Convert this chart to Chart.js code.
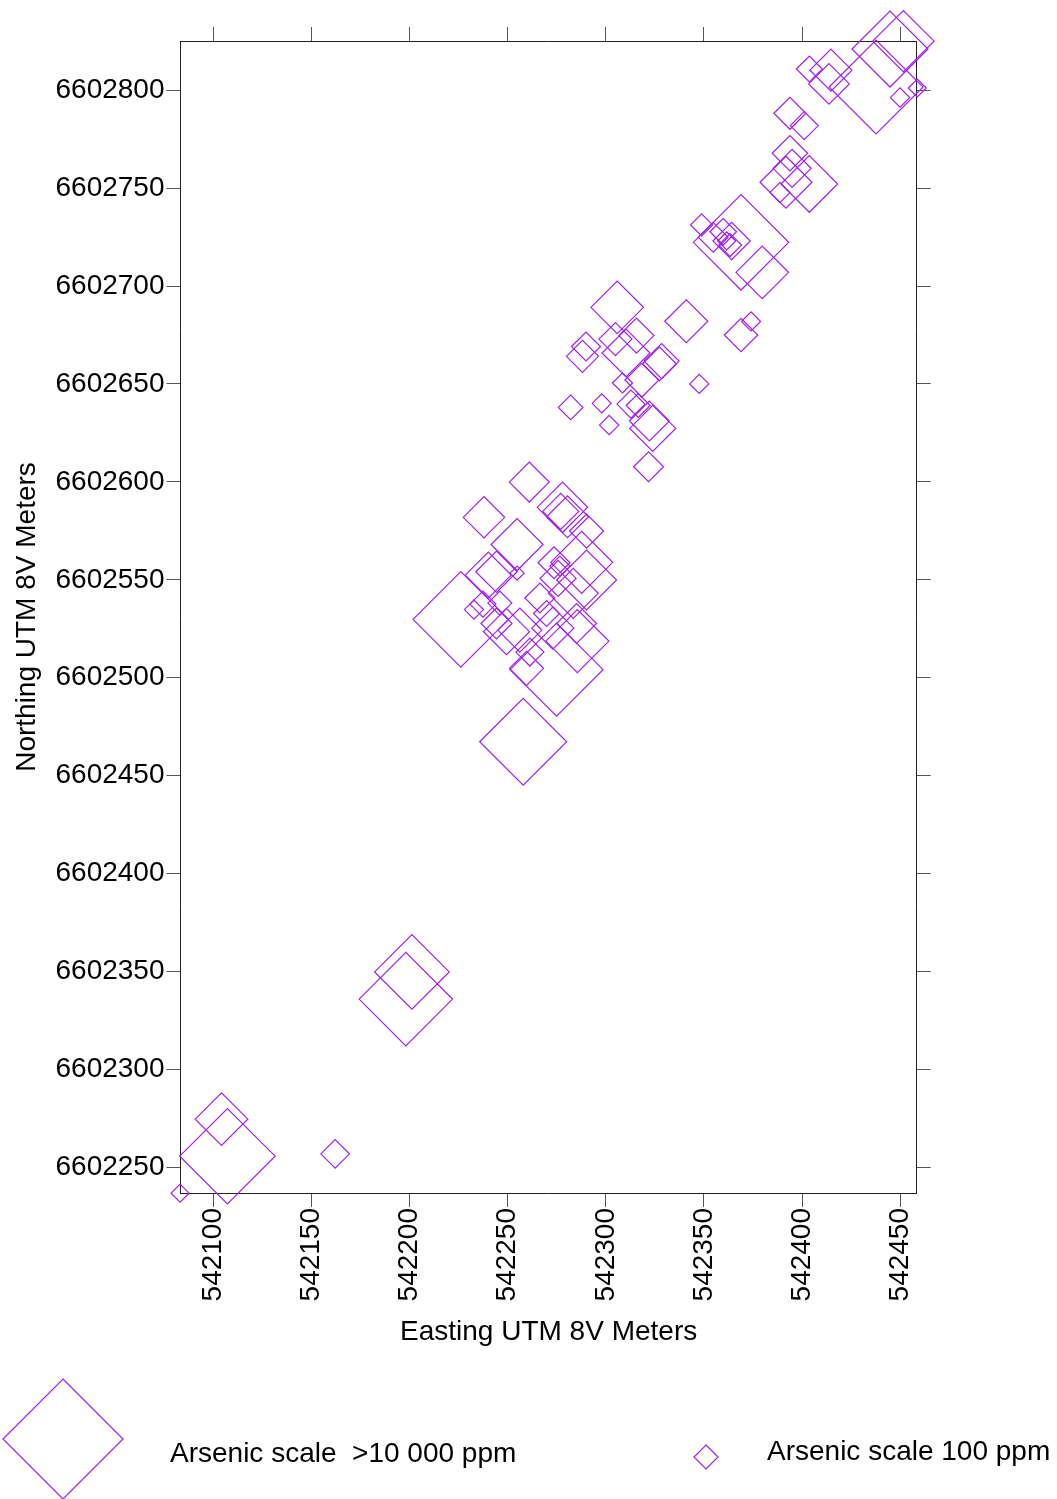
<!DOCTYPE html>
<html>
<head>
<meta charset="utf-8">
<title>Arsenic in samples, UTM 8V</title>
<script src="https://cdn.jsdelivr.net/npm/chart.js"></script>
<style>
  html, body { margin: 0; padding: 0; background: #ffffff; }
  #wrap { position: relative; width: 1057px; height: 1499px; }
  canvas { display: block; }
</style>
</head>
<body>
<div id="wrap"><canvas id="map" width="1057" height="1499"></canvas></div>
<script>
// Sample locations (UTM zone 8V, metres) and arsenic assays (ppm)
const eastings = [
  542444.8, 542451.6, 542437.7, 542449.9, 542458.7, 542403.7, 542414.7, 542413.7,
  542393.8, 542401.1, 542393.8, 542394.9, 542403.7, 542391.8, 542388.7,
  542368.9, 542379.7, 542348.8, 542359.8, 542364.1, 542361.6, 542363.3, 542354.7,
  542341.0, 542368.9, 542374.0,
  542305.8, 542289.9, 542288.1, 542304.9, 542315.6, 542310.3, 542328.4, 542327.3,
  542318.4, 542308.5, 542347.6, 542282.1, 542297.9, 542301.7, 542312.8, 542316.5,
  542322.2, 542323.9, 542321.8,
  542261.0, 542237.9, 542277.9, 542277.0, 542280.5, 542290.2, 542254.8, 542244.3,
  542240.1, 542254.8, 542226.1, 542232.8, 542273.6, 542275.7, 542287.7, 542290.2,
  542283.4, 542285.5, 542274.9, 542257.9, 542249.4, 542259.6, 542244.3, 542269.8,
  542273.0, 542285.1, 542256.2, 542246.0, 542266.4, 542261.3, 542276.6, 542237.4,
  542201.2, 542198.1, 542104.2, 542107.2, 542162.1, 542083.1
];
const northings = [
  6602821.0, 6602825.0, 6602801.6, 6602796.2, 6602801.1, 6602810.8, 6602810.2, 6602803.2,
  6602788.2, 6602781.9, 6602767.8, 6602760.1, 6602752.1, 6602753.0, 6602747.7,
  6602722.3, 6602707.0, 6602731.2, 6602727.7, 6602723.0, 6602723.0, 6602720.9, 6602724.9,
  6602682.0, 6602675.0, 6602681.9,
  6602689.1, 6602669.1, 6602664.1, 6602672.9, 6602674.7, 6602665.8, 6602661.7, 6602660.2,
  6602652.0, 6602650.5, 6602650.0, 6602638.0, 6602640.1, 6602629.0, 6602639.7, 6602639.0,
  6602631.1, 6602627.3, 6602607.7,
  6602599.9, 6602581.9, 6602587.0, 6602584.9, 6602582.2, 6602574.9, 6602568.0, 6602554.1,
  6602552.4, 6602553.4, 6602529.8, 6602534.8, 6602558.7, 6602550.7, 6602558.9, 6602549.9,
  6602543.1, 6602518.7, 6602504.1, 6602467.3, 6602523.5, 6602504.8, 6602527.7, 6602532.8,
  6602525.3, 6602527.7, 6602524.3, 6602538.1, 6602540.7, 6602513.1, 6602557.0, 6602537.6,
  6602349.8, 6602335.9, 6602274.6, 6602255.7, 6602256.9, 6602236.8
];
const arsenicPpm = [
  1212, 601, 2873, 80, 75, 110, 237, 222,
  147, 121, 173, 196, 478, 383, 83,
  3073, 394, 91, 113, 190, 75, 95, 133,
  249, 157, 79,
  394, 127, 147, 154, 170, 316, 170, 162,
  162, 83, 79, 103, 79, 80, 121, 100,
  215, 287, 133,
  215, 230, 355, 178, 237, 162, 383, 230,
  287, 62, 3073, 79, 147, 178, 619, 562,
  348, 649, 2738, 2054, 287, 162, 140, 110,
  237, 215, 261, 100, 133, 121, 83, 110,
  1133, 2791, 394, 3073, 125, 75
];

// Axis tick values
const eastingTicks = [542100, 542150, 542200, 542250, 542300, 542350, 542400, 542450];
const northingTicks = [6602250, 6602300, 6602350, 6602400, 6602450, 6602500, 6602550,
                       6602600, 6602650, 6602700, 6602750, 6602800];

// Legend entries: symbol value and caption
const legendPpm = [10000, 100];
const legendText = ['Arsenic scale  >10 000 ppm', 'Arsenic scale 100 ppm'];

// Map extent (metres)
const EAST_MIN = 542083.3, EAST_MAX = 542458.4;
const NORTH_MIN = 6602236.9, NORTH_MAX = 6602825.1;

const PURPLE = '#a020f0';
const SYMBOL_LINE = 1.2;
const FONT = '"Liberation Sans", Arial, sans-serif';

// Symbol half-diagonal grows with the log of the assay: 100 ppm -> 12 px, 10 000 ppm -> 60 px
function symbolRadius(ppm) {
  return 12 + 24 * Math.log10(ppm / 100);
}

const points = eastings.map((e, i) => ({ x: e, y: northings[i] }));

function setTicks(values) {
  return (scale) => { scale.ticks = values.map(v => ({ value: v })); };
}

function diamond(ctx, x, y, r) {
  ctx.beginPath();
  ctx.moveTo(x, y - r);
  ctx.lineTo(x + r, y);
  ctx.lineTo(x, y + r);
  ctx.lineTo(x - r, y);
  ctx.closePath();
  ctx.stroke();
}

// Scale legend under the map
const scaleLegend = {
  id: 'scaleLegend',
  afterDraw(chart) {
    const ctx = chart.ctx;
    ctx.save();
    ctx.strokeStyle = PURPLE;
    ctx.lineWidth = SYMBOL_LINE;
    diamond(ctx, 63, 1439, symbolRadius(legendPpm[0]));
    diamond(ctx, 706, 1457, symbolRadius(legendPpm[1]));
    ctx.fillStyle = '#000';
    ctx.font = '28px ' + FONT;
    ctx.textAlign = 'left';
    ctx.textBaseline = 'alphabetic';
    ctx.fillText(legendText[0], 170, 1462);
    ctx.fillText(legendText[1], 767, 1460);
    ctx.restore();
  }
};

const gridOpts = { drawOnChartArea: false, drawTicks: true, tickLength: 14, color: '#555', lineWidth: 1 };
const borderOpts = { display: true, color: '#222', width: 1 };

Chart.defaults.font.family = FONT;
Chart.defaults.font.size = 28;
Chart.defaults.color = '#000';

new Chart(document.getElementById('map'), {
  type: 'scatter',
  data: {
    datasets: [{
      label: 'Arsenic',
      data: points,
      pointStyle: 'rectRot',
      pointRadius: (c) => symbolRadius(arsenicPpm[c.dataIndex]),
      pointBorderColor: PURPLE,
      pointBackgroundColor: 'rgba(0,0,0,0)',
      pointBorderWidth: SYMBOL_LINE,
      borderColor: PURPLE,
      backgroundColor: 'rgba(0,0,0,0)',
      clip: false
    }]
  },
  options: {
    responsive: false,
    animation: false,
    events: [],
    layout: { autoPadding: false, padding: { left: 0, right: 0, top: 0, bottom: 150 } },
    plugins: { legend: { display: false }, tooltip: { enabled: false } },
    scales: {
      x: {
        type: 'linear', position: 'bottom', min: EAST_MIN, max: EAST_MAX,
        afterBuildTicks: setTicks(eastingTicks),
        afterFit: (s) => { s.height = 156; },
        ticks: { minRotation: 90, maxRotation: 90, padding: 1, callback: (v) => String(v) },
        grid: gridOpts, border: borderOpts,
        title: { display: true, text: 'Easting UTM 8V Meters', padding: { top: 0, bottom: 0 } }
      },
      xTop: {
        type: 'linear', position: 'top', min: EAST_MIN, max: EAST_MAX,
        afterBuildTicks: setTicks(eastingTicks),
        afterFit: (s) => { s.height = 41; },
        ticks: { display: false },
        grid: gridOpts, border: borderOpts
      },
      y: {
        type: 'linear', position: 'left', min: NORTH_MIN, max: NORTH_MAX,
        afterBuildTicks: setTicks(northingTicks),
        afterFit: (s) => { s.width = 180.5; },
        ticks: { padding: 2, callback: (v) => String(v) },
        grid: gridOpts, border: borderOpts,
        title: { display: true, text: 'Northing UTM 8V Meters', padding: { top: 10, bottom: 0 } }
      },
      yRight: {
        type: 'linear', position: 'right', min: NORTH_MIN, max: NORTH_MAX,
        afterBuildTicks: setTicks(northingTicks),
        afterFit: (s) => { s.width = 140.3; },
        ticks: { display: false },
        grid: gridOpts, border: borderOpts
      }
    }
  },
  plugins: [scaleLegend]
});
</script>
</body>
</html>
